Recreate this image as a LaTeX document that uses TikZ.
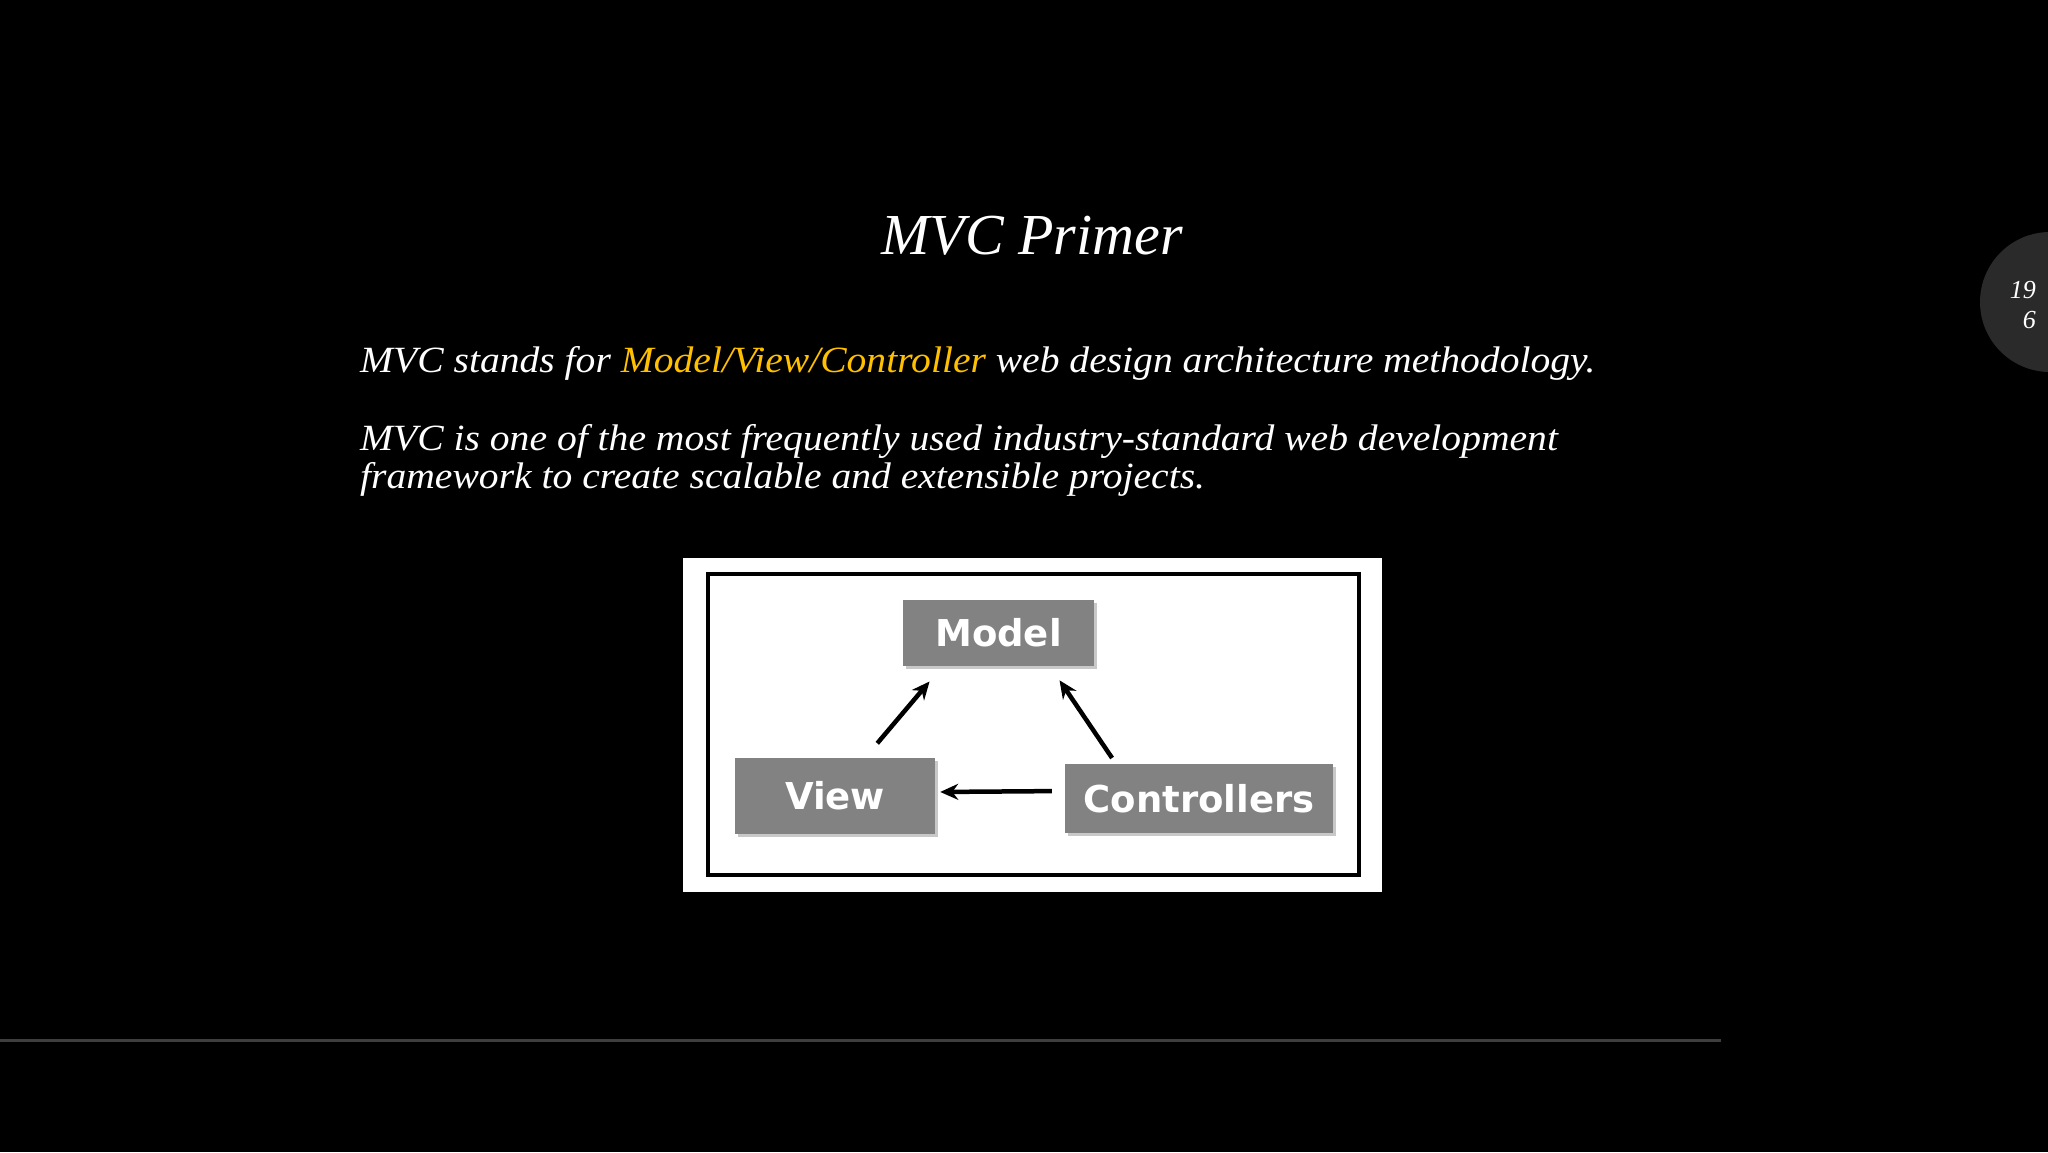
\documentclass[tikz,border=0pt]{standalone}
\usepackage{fontspec}
\setmainfont{Liberation Serif}
\newfontfamily\bodyfont{Liberation Serif}[FakeStretch=1.07]
\newfontfamily\boxfont{DejaVu Sans}
\usetikzlibrary{arrows.meta}
\definecolor{boxgray}{RGB}{130,130,130}
\definecolor{shadowgray}{RGB}{200,200,200}
\definecolor{accent}{RGB}{255,192,0}
\definecolor{circgray}{RGB}{42,42,42}
\definecolor{rulegray}{RGB}{62,62,62}
\begin{document}
\begin{tikzpicture}[x=1pt,y=-1pt,
    mvcbox/.style={fill=boxgray, text=white, inner sep=0pt, font=\boxfont\bfseries\fontsize{37}{40}\selectfont},
    slidetext/.style={text=white, inner sep=0pt, anchor=base west, font=\bodyfont\itshape\fontsize{37}{38}\selectfont},
    flow/.style={-{Stealth[length=18pt,width=16pt]}, line width=4.5pt}]
    \fill[black] (0,0) rectangle (2048,1152);
    \useasboundingbox (0,0) rectangle (2048,1152);

    % page number tab
    \fill[circgray] (2050,302) circle (70pt);
    \node[text=white, inner sep=0pt, anchor=base east, font=\itshape\fontsize{26}{28}\selectfont] (pg1) at (2036,298) {19};
    \node[text=white, inner sep=0pt, anchor=base east, font=\itshape\fontsize{26}{28}\selectfont] (pg2) at (2036,328) {6};

    \node[text=white, inner sep=0pt, anchor=base, font=\itshape\fontsize{58}{62}\selectfont] (title) at (1032,254) {MVC Primer};
    \node[slidetext] (line1) at (360,372) {MVC stands for \textcolor{accent}{Model/View/Controller} web design architecture methodology.};
    \node[slidetext] (line2) at (360,450) {MVC is one of the most frequently used industry-standard web development};
    \node[slidetext] (line3) at (360,488) {framework to create scalable and extensible projects.};

    % picture
    \fill[white] (683,558) rectangle (1382,892);
    \draw[line width=4.5pt] (708,574) rectangle (1359,875);

    \fill[shadowgray] (906,603) rectangle (1097,669);
    \fill[shadowgray] (738,761) rectangle (938,837);
    \fill[shadowgray] (1068,767) rectangle (1336,836);
    \node[mvcbox, minimum width=191pt, minimum height=66pt] (model) at (998.5,633) {Model};
    \node[mvcbox, minimum width=200pt, minimum height=76pt] (view) at (835,796) {View};
    \node[mvcbox, minimum width=268pt, minimum height=69pt] (ctrl) at (1199,798.5) {Controllers};

    \draw[flow, shorten <=19pt, shorten >=20pt] ([xshift=30pt]view.north) -- ([xshift=-56pt]model.south);
    \draw[flow, shorten <=7pt, shorten >=17pt] ([xshift=-83pt]ctrl.north) -- ([xshift=51.5pt]model.south);
    \draw[flow, shorten <=13pt, shorten >=5pt] ([yshift=7.5pt]ctrl.west) -- ([yshift=4pt]view.east);

    \draw[rulegray, line width=3pt] (0,1040) -- (1721,1040);
\end{tikzpicture}
\end{document}
